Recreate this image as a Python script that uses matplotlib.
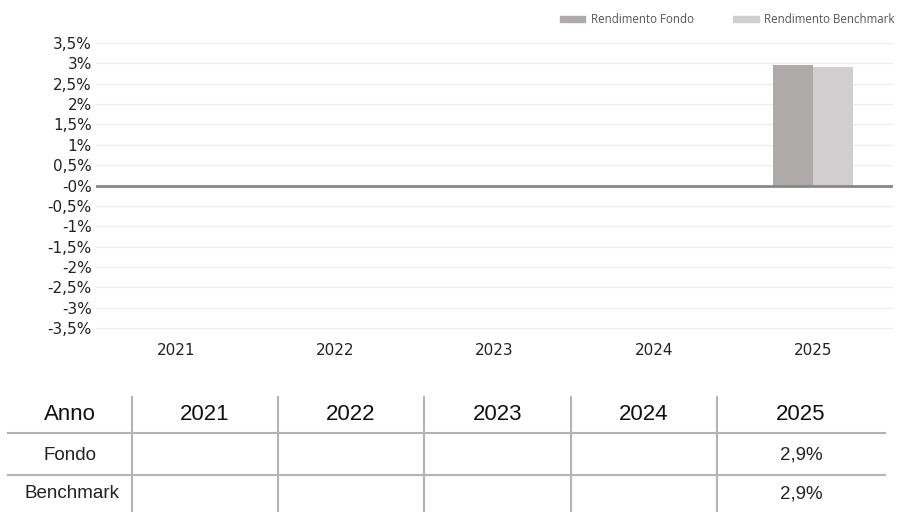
import matplotlib
matplotlib.use("Agg")
import matplotlib.pyplot as plt
from matplotlib.patches import Patch
from matplotlib import font_manager

years = ["2021", "2022", "2023", "2024", "2025"]
fondo = [0, 0, 0, 0, 2.96]
benchmark = [0, 0, 0, 0, 2.92]
fondo_tab = ["", "", "", "", "2,9%"]
benchmark_tab = ["", "", "", "", "2,9%"]
yticks = [3.5, 3, 2.5, 2, 1.5, 1, 0.5, 0, -0.5, -1, -1.5, -2, -2.5, -3, -3.5]
ytick_labels = ["3,5%", "3%", "2,5%", "2%", "1,5%", "1%", "0,5%", "-0%", "-0,5%",
                "-1%", "-1,5%", "-2%", "-2,5%", "-3%", "-3,5%"]

c_fondo = "#aeaaa9"
c_bench = "#d0cecf"
W, H = 904, 512

names = {f.name for f in font_manager.fontManager.ttflist}
narrow = "Liberation Sans Narrow" if "Liberation Sans Narrow" in names else "Liberation Sans"

fig = plt.figure(figsize=(W / 100, H / 100), dpi=100)

# chart area (ylim padded a bit so the outer gridlines show)
pad = 0.05
ppu = (328 - 43) / 7.0
ax = fig.add_axes([96 / W, (H - 328 - pad * ppu) / H, (893 - 96) / W, (328 - 43 + 2 * pad * ppu) / H])
x = list(range(len(years)))
bw = 0.25
ax.bar([i - bw / 2 for i in x], fondo, width=bw, color=c_fondo, zorder=2)
ax.bar([i + bw / 2 for i in x], benchmark, width=bw, color=c_bench, zorder=2)
ax.axhline(0, color="#888888", lw=2, zorder=3)
ax.set_xlim(-0.5, len(years) - 0.5)
ax.set_ylim(-3.5 - pad, 3.5 + pad)
ax.set_yticks(yticks)
ax.set_yticklabels(ytick_labels, fontsize=11, color="#222222", family="DejaVu Sans")
ax.set_xticks(x)
ax.set_xticklabels(years, fontsize=11, color="#222222", family="DejaVu Sans")
ax.tick_params(length=0)
ax.tick_params(axis="y", pad=3)
ax.tick_params(axis="x", pad=9)
ax.grid(axis="y", color="#eeeeee", lw=1, zorder=0)
for s in ax.spines.values():
    s.set_visible(False)

# legend
handles = [Patch(color=c_fondo, label="Rendimento Fondo"),
           Patch(color=c_bench, label="Rendimento Benchmark")]
leg = fig.legend(handles=handles, loc="upper left", bbox_to_anchor=(560 / W, 1 - 13 / H),
                 ncol=2, frameon=False, borderpad=0, borderaxespad=0,
                 handlelength=2.2, handleheight=0.5,
                 columnspacing=3.4, handletextpad=0.5,
                 prop={"family": "Open Sans", "size": 8.3})
for t in leg.get_texts():
    t.set_color("#555555")

# table below
tx = fig.add_axes([0, 0, 1, 1])
tx.set_xlim(0, W)
tx.set_ylim(H, 0)
tx.axis("off")
line_c = "#b4b4b4"
col_edges = [132, 278, 424, 571, 717]
for xe in col_edges:
    tx.plot([xe, xe], [397, H], color=line_c, lw=1.5)
for ye in [433, 475]:
    tx.plot([8, 885], [ye, ye], color=line_c, lw=1.5)

col_centers = [205, 351, 498, 644, 801]
tx.text(70, 415, "Anno", ha="center", va="center", fontsize=16, family=narrow, color="#111111")
for cx, yr in zip(col_centers, years):
    tx.text(cx, 415, yr, ha="center", va="center", fontsize=16, family=narrow, color="#111111")
tx.text(70, 455, "Fondo", ha="center", va="center", fontsize=13.5, family=narrow, color="#222222")
tx.text(72, 494, "Benchmark", ha="center", va="center", fontsize=13.5, family=narrow, color="#222222")
for cx, v in zip(col_centers, fondo_tab):
    tx.text(cx, 455, v, ha="center", va="center", fontsize=13.5, family=narrow, color="#222222")
for cx, v in zip(col_centers, benchmark_tab):
    tx.text(cx, 494, v, ha="center", va="center", fontsize=13.5, family=narrow, color="#222222")

fig.savefig("out.png", dpi=100)
